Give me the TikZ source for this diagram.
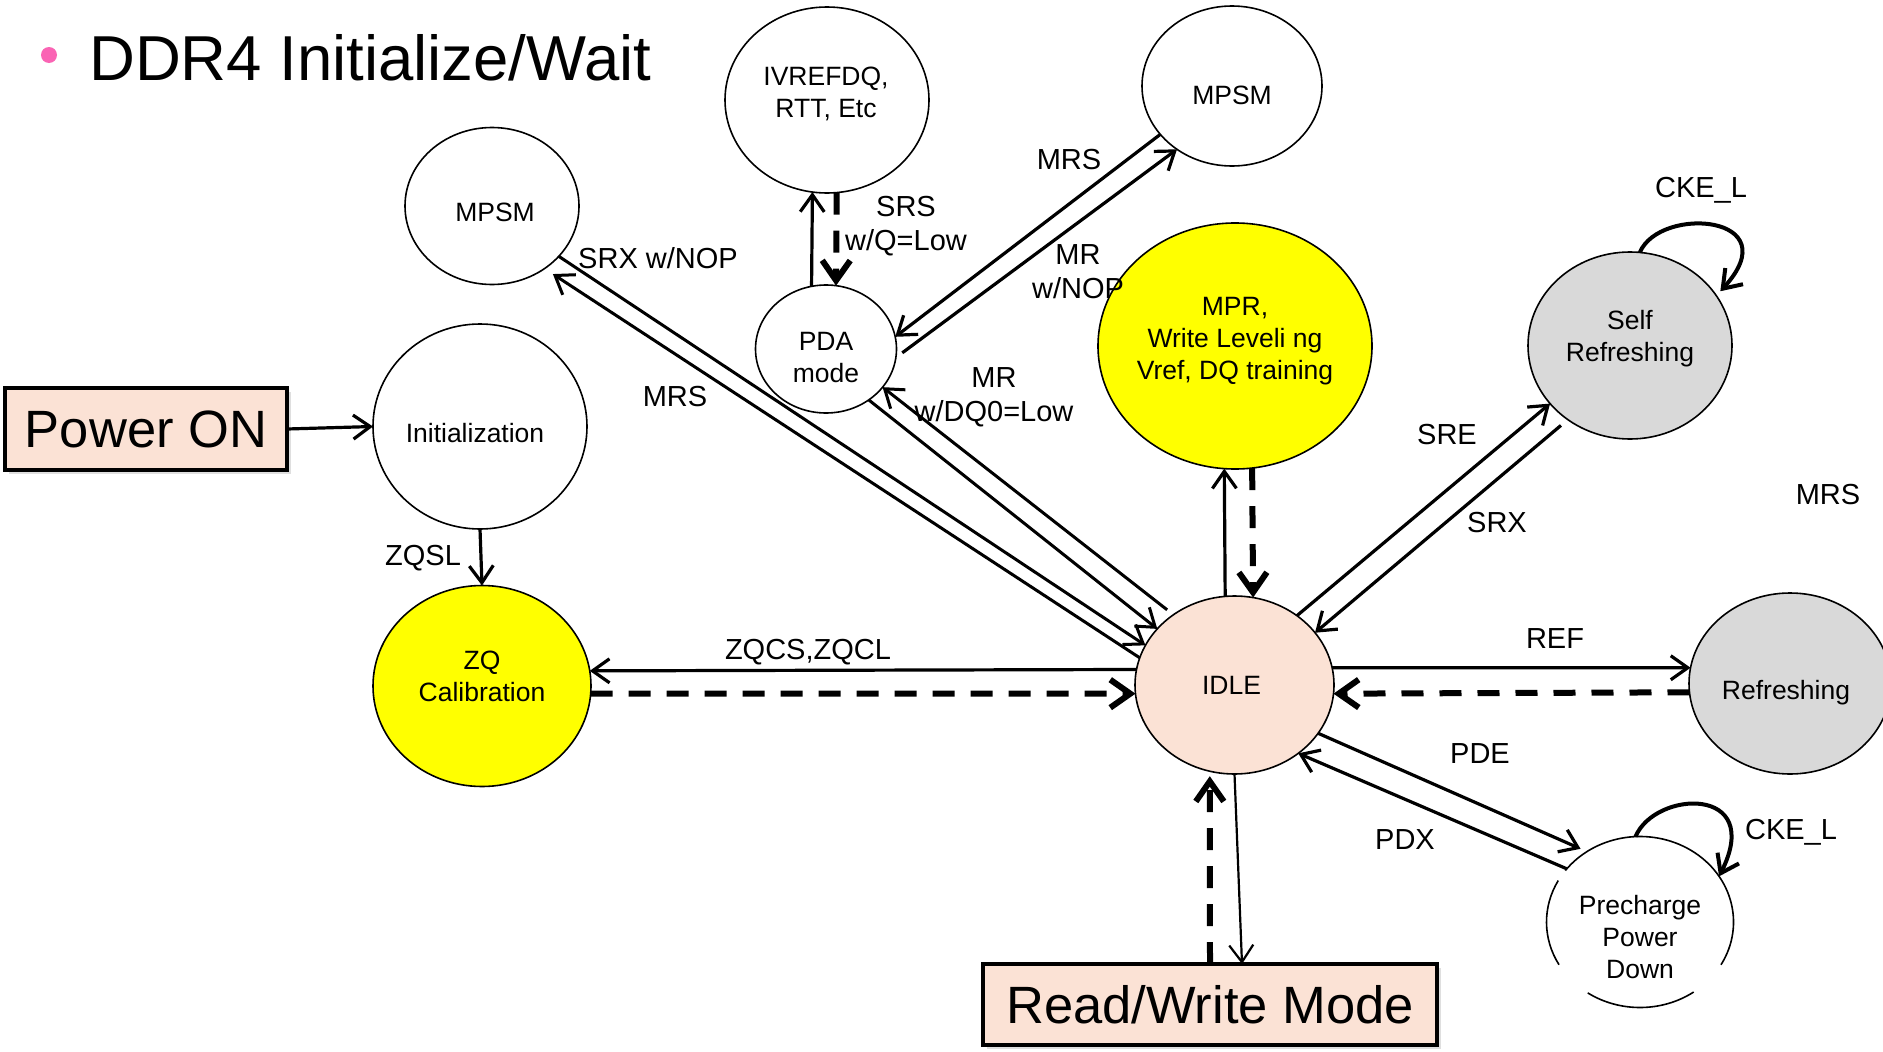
\documentclass[tikz,border=0pt]{standalone}
\usepackage{fontspec}
\setmainfont{Liberation Sans}
\usetikzlibrary{arrows.meta,shapes.geometric,shadows}

\definecolor{peach}{RGB}{251,226,213}
\definecolor{stateyellow}{RGB}{255,255,0}
\definecolor{stategray}{RGB}{217,217,217}
\definecolor{bulletpink}{RGB}{250,100,180}

\newcommand\statefont{\fontsize{26.5}{32}\selectfont}
\newcommand\edgefont{\fontsize{29}{34}\selectfont}
\newcommand\boxfont{\fontsize{52.5}{60}\selectfont}
\newcommand\titlefont{\fontsize{63.5}{70}\selectfont}

\begin{document}
\begin{tikzpicture}[x=1pt,y=-1pt,
  state/.style={ellipse, draw, line width=1.6pt, inner sep=0pt, outer sep=0pt},
  stext/.style={align=center, font=\statefont, inner sep=0pt},
  modebox/.style={rectangle, draw, line width=4.5pt, fill=peach, inner sep=0pt,
    outer sep=0pt, font=\boxfont,
    drop shadow={shadow xshift=4pt, shadow yshift=-4pt, opacity=0.25}},
  elabel/.style={font=\edgefont, align=center, inner sep=0pt},
  barb/.style={-{Straight Barb[length=17pt,width=24pt]}},
  conn/.style={line width=3.2pt, barb},
  thinconn/.style={line width=2.2pt, barb},
  dconn/.style={line width=6pt, dash pattern=on 22pt off 16pt,
    -{Straight Barb[length=20pt,width=28pt]}},
  loopconn/.style={line width=4pt, barb},
]
% canvas
\path[fill=white, use as bounding box] (0,0) rectangle (1883,1052);

% heading
\node[circle, fill=bulletpink, inner sep=0pt, minimum size=16pt] (bullet) at (49,55) {};
\node[anchor=base west, font=\titlefont, inner sep=0pt] (title) at (89,80) {DDR4 Initialize/Wait};

% entry and exit boxes
\node[modebox, minimum width=282pt, minimum height=82pt] (pwr) at (146,429) {Power ON};
\node[modebox, minimum width=454pt, minimum height=81pt] (rw) at (1210,1004.5) {Read/Write Mode};

% states
\node[state, minimum width=214pt, minimum height=205pt,
  label={[stext, xshift=-5pt, yshift=-6.5pt]center:Initialization}] (init) at (480,426.5) {};
\node[state, fill=stateyellow, minimum width=218pt, minimum height=201pt,
  label={[stext, yshift=10pt]center:{ZQ\\Calibration}}] (zq) at (482,686) {};
\node[state, minimum width=174pt, minimum height=157pt,
  label={[stext, xshift=3pt, yshift=-6pt]center:MPSM}] (mpsmL) at (492,206) {};
\node[state, minimum width=204pt, minimum height=186pt,
  label={[stext, xshift=-1pt, yshift=6pt]center:{IVREFDQ,\\RTT, Etc}}] (ivref) at (827,100) {};
\node[state, minimum width=141pt, minimum height=128pt,
  label={[stext, yshift=-9pt]center:{PDA\\mode}}] (pda) at (826,349) {};
\node[state, minimum width=180pt, minimum height=160pt,
  label={[stext, yshift=-9pt]center:MPSM}] (mpsmR) at (1232,86) {};
\node[state, fill=stateyellow, minimum width=274pt, minimum height=246pt,
  label={[stext, yshift=4.5pt]center:{MPR,\\Write Leveli ng\\Vref, DQ training}}] (mpr) at (1235,346) {};
\node[state, fill=stategray, minimum width=204pt, minimum height=187pt,
  label={[stext, yshift=6.5pt]center:{Self\\Refreshing}}] (sr) at (1630,345.5) {};
\node[state, fill=peach, minimum width=199pt, minimum height=178pt,
  label={[stext, xshift=-3pt]center:IDLE}] (idle) at (1234.5,685) {};
\node[state, fill=stategray, minimum width=202pt, minimum height=181pt,
  label={[stext, xshift=-4pt, yshift=-9.5pt]center:Refreshing}] (ref) at (1790,683.5) {};
\node[state, draw=none, minimum width=187pt, minimum height=171pt,
  label={[stext, yshift=-15pt]center:{Precharge\\Power\\Down}}] (pp) at (1640,922) {};

% broken outline of the precharge power-down state
\draw[line width=1.6pt] ([shift={(30:93.5 and 85.5)}]pp.center)
  arc[start angle=30, end angle=-143, x radius=93.5, y radius=85.5];
\draw[line width=1.6pt] ([shift={(-151:93.5 and 85.5)}]pp.center)
  arc[start angle=-151, end angle=-210, x radius=93.5, y radius=85.5];
\draw[line width=1.6pt] ([shift={(-236:93.5 and 85.5)}]pp.center)
  arc[start angle=-236, end angle=-305, x radius=93.5, y radius=85.5];

% power-up sequence
\draw[conn] (pwr.east) -- (init.west);
\draw[conn] (init.south) -- (zq.north);

% ZQ calibration
\draw[conn] (idle.171) -- (zq.8);
\draw[dconn] (zq.356) -- (idle.185);

% MPSM (left)
\draw[conn, line width=3pt] (mpsmL.323) -- (idle.156);
\draw[conn, line width=3pt, shorten >=10pt] (idle.164) -- (mpsmL.310);

% PDA mode
\draw[conn, line width=3pt] (pda.310) -- (idle.144);
\draw[conn, line width=3pt, shorten <=8pt] (idle.131) -- (pda.326);
\draw[conn] (pda.103) -- (ivref.261);
\draw[dconn] (ivref.276) -- (pda.81);
\draw[conn] (mpsmR.214) -- (pda.10);
\draw[conn, shorten <=8pt] (pda.353) -- (mpsmR.229);

% MPR / training
\draw[conn] (idle.96) -- (mpr.265);
\draw[dconn] (mpr.278) -- (idle.78);

% self refresh
\draw[conn] (idle.48) -- (sr.216);
\draw[conn, shorten <=9pt] (sr.230) -- (idle.33);
\draw[loopconn, shorten >=6pt] (sr.84) .. controls (1660,205) and (1790,215) .. (sr.30);

% refresh
\draw[conn] (idle.10) -- (ref.171);
\draw[dconn] (ref.185) -- (idle.355);

% precharge power down
\draw[conn, shorten >=7pt] (idle.330) -- (pp.127);
\draw[conn] (pp.144) -- (idle.313);
\draw[loopconn] (pp.93) .. controls (1655,790) and (1765,785) .. (pp.30);

% read / write
\draw[thinconn] (idle.270) -- ([xshift=32pt]rw.north);
\draw[dconn, shorten >=5pt] (rw.north) -- (idle.254);

% transition labels
\node[elabel] (lSRXnop) at (658,258) {SRX w/NOP};
\node[elabel] (lMRSa) at (675,397) {MRS};
\node[elabel] (lSRS) at (906,226) {SRS\\w/Q=Low};
\node[elabel] (lMRSb) at (1069,160) {MRS};
\node[elabel] (lMRnop) at (1078,272) {MR\\w/NOP};
\node[elabel] (lMRdq) at (994,397) {MR\\w/DQ0=Low};
\node[elabel] (lZQSL) at (423,558) {ZQSL};
\node[elabel] (lZQCS) at (808,652) {ZQCS,ZQCL};
\node[elabel] (lSRE) at (1447,435) {SRE};
\node[elabel] (lSRX) at (1497,523) {SRX};
\node[elabel] (lMRSc) at (1828,495) {MRS};
\node[elabel] (lCKEa) at (1701,190) {CKE\_L};
\node[elabel] (lCKEb) at (1791,832) {CKE\_L};
\node[elabel] (lREF) at (1555,639) {REF};
\node[elabel] (lPDE) at (1480,754) {PDE};
\node[elabel] (lPDX) at (1405,840) {PDX};
\end{tikzpicture}
\end{document}
